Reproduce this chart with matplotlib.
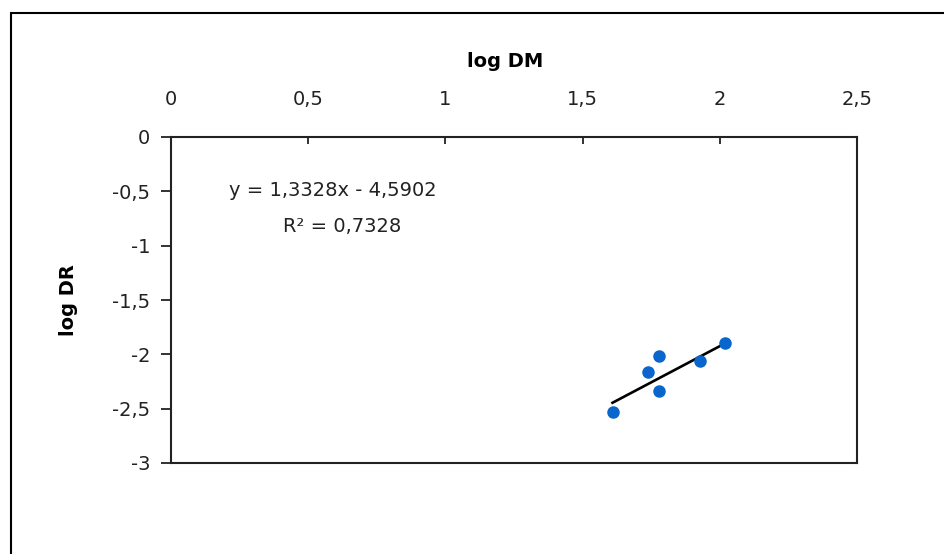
import numpy as np
import matplotlib
matplotlib.use("Agg")
import matplotlib.pyplot as plt
from matplotlib.ticker import FuncFormatter
from matplotlib.patches import Rectangle

# log DM vs log DR observations
log_dm = [1.609, 1.737, 1.777, 1.777, 1.927, 2.018]
log_dr = [-2.530, -2.162, -2.015, -2.337, -2.061, -1.895]

# linear trendline coefficients
slope = 1.3328
intercept = -4.5902
r2 = 0.7328

x_ticks = [0, 0.5, 1, 1.5, 2, 2.5]
y_ticks = [0, -0.5, -1, -1.5, -2, -2.5, -3]

plt.rcParams["font.family"] = ["DejaVu Sans"]

fig = plt.figure(figsize=(9.45, 5.54), dpi=100)
fig.patch.set_facecolor("white")
ax = fig.add_axes([171/945, 1-463/554, (857-171)/945, (463-137)/554])

# outer chart border
fig.patches.append(Rectangle((11/945, -0.1), 1.2, 1-13/554+0.1, transform=fig.transFigure,
                             fill=False, edgecolor="black", linewidth=1.5))

ax.plot(log_dm, log_dr, "o", color="#0a66cc", markersize=8, zorder=3)

xt = np.array([min(log_dm), max(log_dm)])
ax.plot(xt, slope*xt + intercept, color="black", linewidth=1.9, zorder=2)

def comma(v, pos):
    s = ("%g" % v).replace(".", ",")
    return s

ax.set_xlim(0, 2.5)
ax.set_ylim(-3, 0)
ax.set_xticks(x_ticks)
ax.set_yticks(y_ticks)
ax.xaxis.set_major_formatter(FuncFormatter(comma))
ax.yaxis.set_major_formatter(FuncFormatter(comma))

ax.xaxis.tick_top()
ax.xaxis.set_label_position("top")
ax.tick_params(axis="x", direction="in", length=5, width=1.3, pad=20, labelsize=14, colors="#222222")
ax.tick_params(axis="y", direction="out", length=7, width=1.3, pad=8, labelsize=14, colors="#222222")

for sp in ax.spines.values():
    sp.set_linewidth(1.5)
    sp.set_color("#222222")

ax.set_xlabel("log DM", fontsize=14, fontweight="bold")
ax.set_ylabel("log DR", fontsize=14, fontweight="bold")
ax.xaxis.set_label_coords(0.487, 1.215)
ax.yaxis.set_label_coords(-0.136, 0.5)

ax.text(0.59, -0.49, "y = 1,3328x - 4,5902", fontsize=14, ha="center", va="center", color="#222222")
ax.text(0.625, -0.82, "R² = %s" % str(r2).replace(".", ","), fontsize=14, ha="center", va="center",
        color="#222222")

fig.savefig("out.png", dpi=100)
